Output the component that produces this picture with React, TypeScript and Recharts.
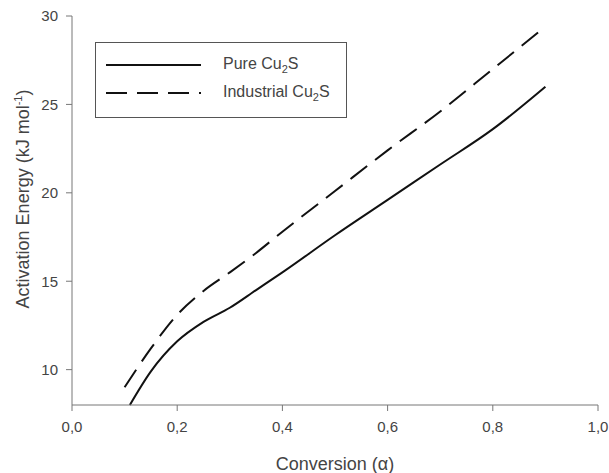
import React from 'react';
import { LineChart, Line, XAxis, YAxis, Label } from 'recharts';

// conversion values and activation energies
const pureAlpha = [0.11, 0.15, 0.2, 0.25, 0.3, 0.35, 0.4, 0.5, 0.6, 0.7, 0.8, 0.9];
const pureEnergy = [8.0, 9.9, 11.6, 12.7, 13.5, 14.5, 15.5, 17.6, 19.6, 21.6, 23.6, 26.0];

const industrialAlpha = [0.1, 0.15, 0.2, 0.25, 0.3, 0.35, 0.4, 0.5, 0.6, 0.7, 0.8, 0.9];
const industrialEnergy = [9.0, 11.2, 13.1, 14.45, 15.5, 16.6, 17.8, 20.1, 22.4, 24.6, 27.0, 29.4];

const xTicks = [0, 0.2, 0.4, 0.6, 0.8, 1.0];
const yTicks = [10, 15, 20, 25, 30];

const pureData = pureAlpha.map((a, i) => ({ alpha: a, energy: pureEnergy[i] }));
const industrialData = industrialAlpha.map((a, i) => ({ alpha: a, energy: industrialEnergy[i] }));

const font = '"Liberation Sans", Arial, sans-serif';
const axisColor = '#777';
const textColor = '#444';

const legendRows = [
  { name: 'Pure Cu', dash: undefined, top: 12 },
  { name: 'Industrial Cu', dash: '21 10', top: 40 },
];

const LegendBox = () => (
  <div
    style={{
      position: 'absolute',
      left: 95,
      top: 42,
      width: 252,
      height: 76,
      border: '1px solid #555',
      background: '#fff',
      fontFamily: font,
      fontSize: 16,
      color: textColor,
      boxSizing: 'border-box',
    }}
  >
    {legendRows.map((row) => (
      <div key={row.name} style={{ position: 'absolute', top: row.top, left: 0, display: 'flex', alignItems: 'center' }}>
        <svg width={96} height={20} style={{ marginLeft: 10 }}>
          <line x1={0} x2={95} y1={10} y2={10} stroke="#111" strokeWidth={2} strokeDasharray={row.dash} />
        </svg>
        <span style={{ marginLeft: 21 }}>
          {row.name}
          <sub style={{ fontSize: 11 }}>2</sub>S
        </span>
      </div>
    ))}
  </div>
);

const YLabel = () => (
  <text
    x={0}
    y={0}
    transform="translate(29, 199) rotate(-90)"
    textAnchor="middle"
    fill={textColor}
    fontFamily={font}
    fontSize={18}
  >
    Activation Energy (kJ mol
    <tspan dy={-7} fontSize={11}>-1</tspan>
    <tspan dy={7}>)</tspan>
  </text>
);

export default function App() {
  return (
    <div style={{ position: 'absolute', left: 0, top: 0, width: 609, height: 473, background: '#fff' }}>
      <LineChart width={609} height={473} margin={{ top: 16, right: 11, bottom: 38, left: 0 }}>
        <XAxis
          dataKey="alpha"
          type="number"
          domain={[0, 1]}
          ticks={xTicks}
          tickFormatter={(v: number) => v.toFixed(1).replace('.', ',')}
          stroke={axisColor}
          tickSize={6}
          tick={{ fill: textColor, fontFamily: font, fontSize: 15 }}
          tickMargin={10}
          allowDuplicatedCategory={false}
        >
          <Label
            value="Conversion (α)"
            position="bottom"
            offset={22}
            fill={textColor}
            fontFamily={font}
            fontSize={18}
          />
        </XAxis>
        <YAxis
          dataKey="energy"
          type="number"
          domain={[8, 30]}
          ticks={yTicks}
          width={72}
          stroke={axisColor}
          tickSize={6}
          tick={{ fill: textColor, fontFamily: font, fontSize: 15 }}
          tickMargin={8}
        >
          <Label content={<YLabel />} />
        </YAxis>
        <Line
          data={pureData}
          dataKey="energy"
          type="monotone"
          stroke="#111"
          strokeWidth={2}
          dot={false}
          name="Pure"
          isAnimationActive={false}
        />
        <Line
          data={industrialData}
          dataKey="energy"
          type="monotone"
          stroke="#111"
          strokeWidth={2}
          strokeDasharray="21 10"
          dot={false}
          name="Industrial"
          isAnimationActive={false}
        />
      </LineChart>
      <LegendBox />
    </div>
  );
}
